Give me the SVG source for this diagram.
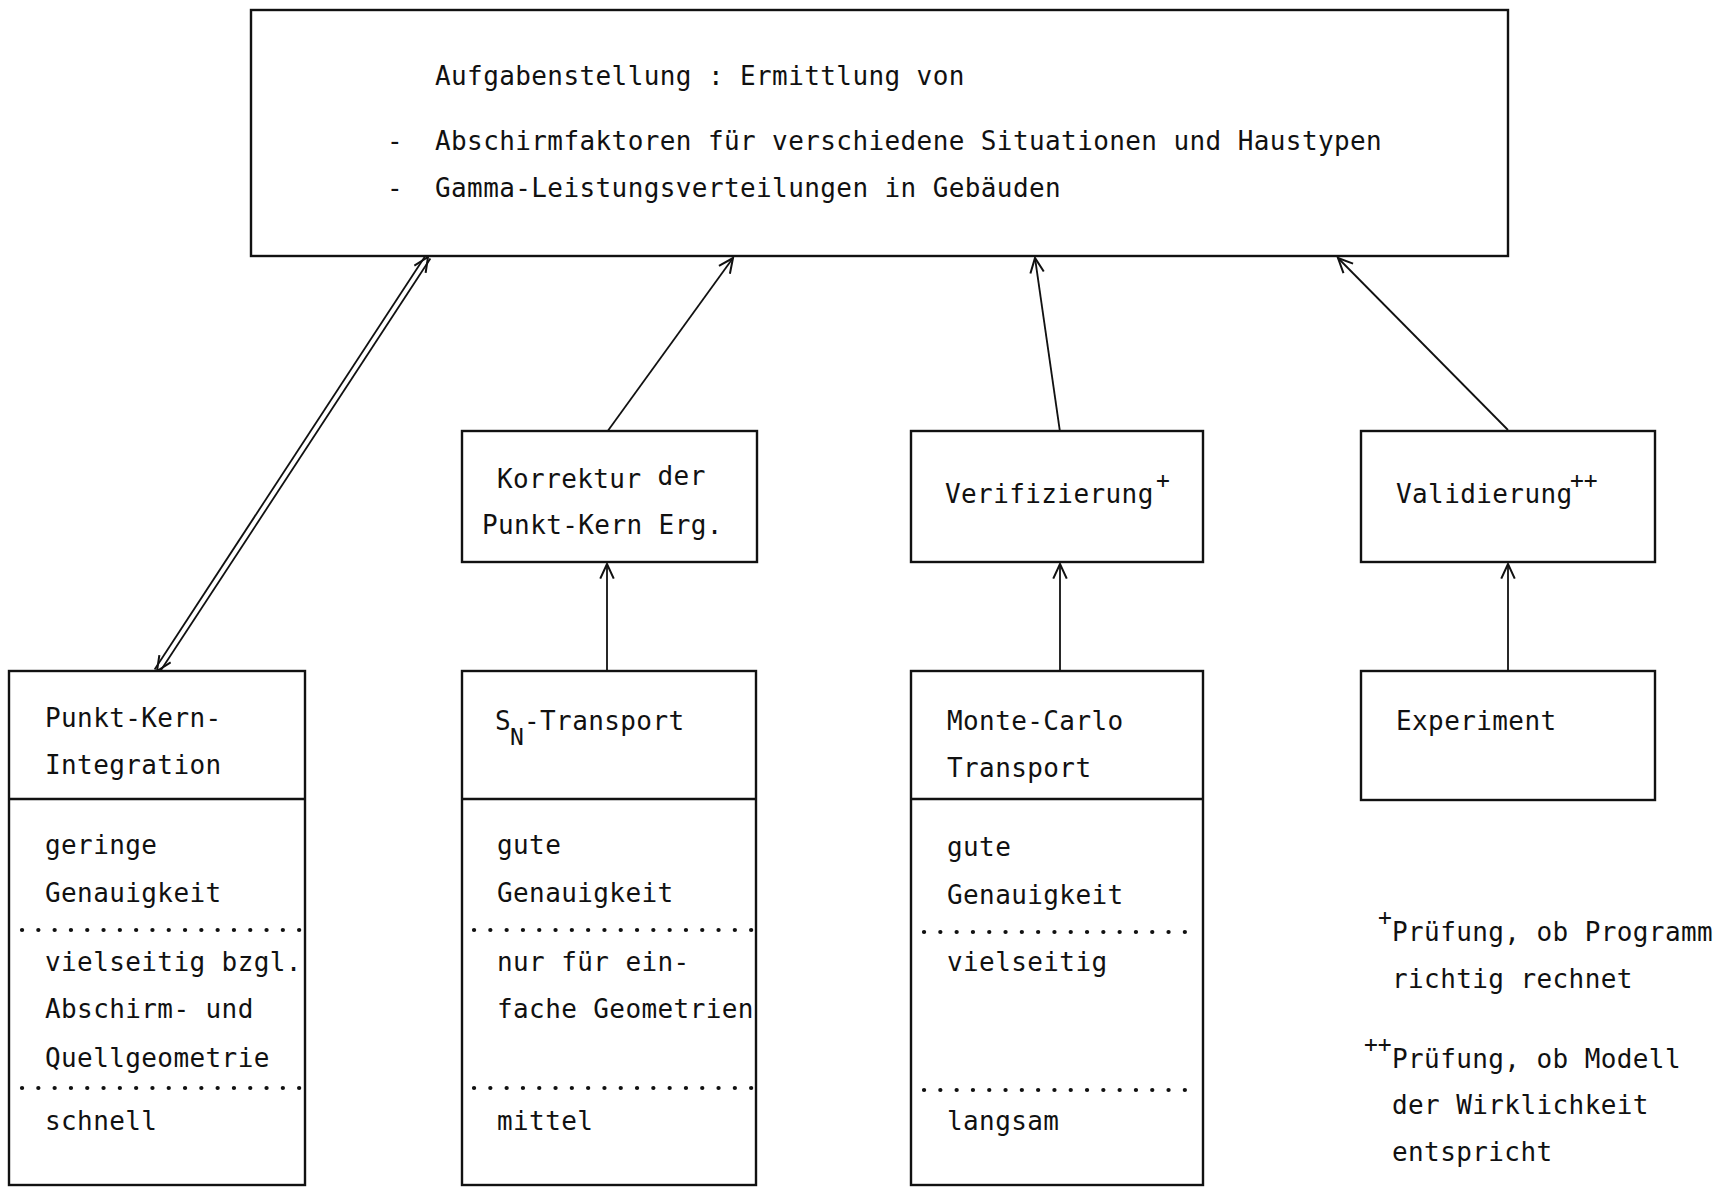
<svg xmlns="http://www.w3.org/2000/svg" width="1726" height="1188" viewBox="0 0 1726 1188">
<style>
.box{fill:#fff;stroke:#111;stroke-width:2.4}
.div{stroke:#111;stroke-width:2.6}
.dot{stroke:#111;stroke-width:4.2;stroke-linecap:round;stroke-dasharray:0.1 16.2;fill:none}
.t{font-family:"DejaVu Sans Mono","Liberation Mono",monospace;font-size:26px;letter-spacing:0.4px;fill:#111}
.sup{font-family:"DejaVu Sans Mono","Liberation Mono",monospace;font-size:23px;fill:#111}
.con{stroke:#111;stroke-width:1.8;fill:none}
</style>
<defs>
<marker id="arr" markerUnits="userSpaceOnUse" markerWidth="18" markerHeight="16" viewBox="0 0 16 14" refX="14" refY="7" orient="auto-start-reverse">
<path d="M1,1 L14,7 L1,13" fill="none" stroke="#111" stroke-width="1.8"/>
</marker>
</defs>

<g id="connectors">
<line class="con" x1="154.6" y1="669.4" x2="425.6" y2="255.4"/>
<line class="con" x1="159.4" y1="672.6" x2="430.4" y2="258.6"/>
<line x1="157" y1="671" x2="428" y2="257" stroke="none" marker-start="url(#arr)" marker-end="url(#arr)"/>
<line class="con" x1="607" y1="432" x2="733" y2="258" marker-end="url(#arr)"/>
<line class="con" x1="1060" y1="432" x2="1035" y2="258" marker-end="url(#arr)"/>
<line class="con" x1="1508" y1="430" x2="1338" y2="258" marker-end="url(#arr)"/>
<line class="con" x1="607" y1="671" x2="607" y2="564" marker-end="url(#arr)"/>
<line class="con" x1="1060" y1="671" x2="1060" y2="564" marker-end="url(#arr)"/>
<line class="con" x1="1508" y1="671" x2="1508" y2="564" marker-end="url(#arr)"/>
</g>

<g id="task">
<rect class="box" x="251" y="10" width="1257" height="246"/>
<text class="t" x="435" y="85">Aufgabenstellung : Ermittlung von</text>
<text class="t" x="387" y="150">-</text>
<text class="t" x="435" y="150">Abschirmfaktoren für verschiedene Situationen und Haustypen</text>
<text class="t" x="387" y="197">-</text>
<text class="t" x="435" y="197">Gamma-Leistungsverteilungen in Gebäuden</text>
</g>

<g id="korrektur">
<rect class="box" x="462" y="431" width="295" height="131"/>
<text class="t" x="497" y="488">Korrektur <tspan dy="-3">der</tspan></text>
<text class="t" x="482" y="534">Punkt-Kern Erg.</text>
</g>

<g id="verifizierung">
<rect class="box" x="911" y="431" width="292" height="131"/>
<text class="t" x="945" y="503">Verifizierung</text>
<text class="sup" x="1156" y="488">+</text>
</g>

<g id="validierung">
<rect class="box" x="1361" y="431" width="294" height="131"/>
<text class="t" x="1396" y="503">Validierung</text>
<text class="sup" x="1570" y="488">++</text>
</g>

<g id="punktkern">
<rect class="box" x="9" y="671" width="296" height="514"/>
<line class="div" x1="9" y1="799" x2="305" y2="799"/>
<line class="dot" x1="22" y1="930" x2="300" y2="930"/>
<line class="dot" x1="22" y1="1088" x2="300" y2="1088"/>
<text class="t" x="45" y="727">Punkt-Kern-</text>
<text class="t" x="45" y="774">Integration</text>
<text class="t" x="45" y="854">geringe</text>
<text class="t" x="45" y="902">Genauigkeit</text>
<text class="t" x="45" y="971">vielseitig bzgl.</text>
<text class="t" x="45" y="1018">Abschirm- und</text>
<text class="t" x="45" y="1067">Quellgeometrie</text>
<text class="t" x="45" y="1130">schnell</text>
</g>

<g id="sn">
<rect class="box" x="462" y="671" width="294" height="514"/>
<line class="div" x1="462" y1="799" x2="756" y2="799"/>
<line class="dot" x1="474" y1="930" x2="752" y2="930"/>
<line class="dot" x1="474" y1="1088" x2="752" y2="1088"/>
<text class="t" x="495" y="730">S</text>
<text class="sup" x="510" y="745">N</text>
<text class="t" x="524" y="730">-Transport</text>
<text class="t" x="497" y="854">gute</text>
<text class="t" x="497" y="902">Genauigkeit</text>
<text class="t" x="497" y="971">nur für ein-</text>
<text class="t" x="497" y="1018">fache Geometrien</text>
<text class="t" x="497" y="1130">mittel</text>
</g>

<g id="montecarlo">
<rect class="box" x="911" y="671" width="292" height="514"/>
<line class="div" x1="911" y1="799" x2="1203" y2="799"/>
<line class="dot" x1="924" y1="932" x2="1200" y2="932"/>
<line class="dot" x1="924" y1="1090" x2="1200" y2="1090"/>
<text class="t" x="947" y="730">Monte-Carlo</text>
<text class="t" x="947" y="777">Transport</text>
<text class="t" x="947" y="856">gute</text>
<text class="t" x="947" y="904">Genauigkeit</text>
<text class="t" x="947" y="971">vielseitig</text>
<text class="t" x="947" y="1130">langsam</text>
</g>

<g id="experiment">
<rect class="box" x="1361" y="671" width="294" height="129"/>
<text class="t" x="1396" y="730">Experiment</text>
</g>

<g id="footnotes">
<text class="sup" x="1378" y="925">+</text>
<text class="t" x="1392" y="941">Prüfung, ob Programm</text>
<text class="t" x="1392" y="988">richtig rechnet</text>
<text class="sup" x="1364" y="1052">++</text>
<text class="t" x="1392" y="1068">Prüfung, ob Modell</text>
<text class="t" x="1392" y="1114">der Wirklichkeit</text>
<text class="t" x="1392" y="1161">entspricht</text>
</g>
</svg>
